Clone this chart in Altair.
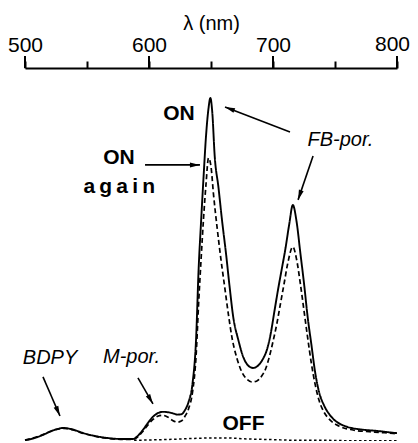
import math
import altair as alt
import pandas as pd

# ---- data ----
wl_on = [500, 507, 514, 522, 531, 539, 547, 556, 566, 577, 587, 591, 595, 599, 603, 607, 611, 615,
         619, 623, 626, 629, 632, 635, 638, 640, 642, 644, 646, 648, 649.5, 651, 653, 656, 659, 662,
         665, 668, 672, 676, 680, 684, 688, 692, 695, 698, 701, 704, 707, 710, 713, 716, 719, 722,
         725, 728, 731, 734, 737, 741, 745, 749, 753, 757, 762, 768, 775, 782, 790, 797, 800]
int_on = [0.2, 0.8, 1.7, 3.0, 3.8, 3.3, 2.3, 1.5, 0.9, 0.6, 0.6, 1.5, 3.2, 5.2, 7.0, 8.1, 8.5, 8.4,
          8.1, 7.7, 7.8, 9.0, 11.5, 16.5, 30, 50, 64, 77, 89, 97, 100, 96, 83, 74, 64, 55,
          45, 36, 29.5, 24.5, 22, 21.3, 22, 24, 26.5, 31, 37.5, 44, 50, 56, 63, 68.8, 64, 55,
          46, 36, 28, 20, 14.5, 10.5, 8, 6.3, 5.2, 4.5, 3.9, 3.5, 3.2, 3.0, 2.7, 2.4, 2.3]

wl_again = [500, 507, 514, 522, 531, 539, 547, 556, 566, 577, 587, 591, 595, 599, 603, 607, 611, 615,
            619, 623, 626, 629, 632, 635, 638, 640, 642, 644, 646, 648, 650, 652, 655, 658, 661, 664,
            667, 671, 675, 679, 683, 687, 691, 694, 697, 700, 703, 706, 709, 712, 716, 719, 722, 725,
            728, 731, 734, 737, 741, 745, 749, 753, 757, 762, 768, 775, 782, 790, 797, 800]
int_again = [0.3, 0.9, 1.8, 3.0, 3.7, 3.2, 2.2, 1.4, 0.8, 0.5, 0.5, 1.2, 2.8, 4.6, 6.2, 7.2, 7.5, 7.0,
             6.0, 5.5, 5.8, 7.2, 9.5, 14, 25, 40, 53, 65, 75, 82.5, 80, 72, 62, 53, 45, 37,
             30, 24, 20, 18, 17.2, 17.5, 19, 21, 24.5, 29, 34, 40, 46, 52, 56.6, 53, 46, 38,
             30, 22.5, 16.5, 12, 8.5, 6.5, 5.2, 4.4, 3.8, 3.4, 3.0, 2.8, 2.6, 2.4, 2.2, 2.1]

wl_off = [588, 600, 620, 640, 660, 680, 700, 720, 740, 760, 780, 800]
int_off = [0.2, 0.3, 0.5, 0.8, 0.9, 0.6, 0.4, 0.2, 0.2, 0.1, 0.1, 0.1]

tick_values = list(range(500, 801, 25))
major_ticks = [500, 600, 700, 800]
last_tick_label = ["800"]
last_tick_value = [800]

# annotations (text, wavelength, intensity)
bold_labels = ["ON", "ON", "a\u2009g\u2009a\u2009i\u2009n", "OFF"]
bold_x = [624.2, 575.8, 576.0, 676.2]
bold_y = [95.2, 82.4, 74.0, 5.1]

italic_labels = ["FB-por.", "BDPY", "M-por."]
italic_x = [754.4, 520.2, 585.9]
italic_y = [87.8, 24.1, 24.5]

arrow_x1 = [596.8, 713.7, 732.3, 514.5, 591.1]
arrow_y1 = [80.5, 90.1, 83.1, 18.7, 18.4]
arrow_x2 = [641.1, 661.3, 720.2, 528.2, 603.2]
arrow_y2 = [80.5, 97.4, 70.3, 7.3, 10.8]

# ---- chart ----
W, H = 372, 373
XDOM = [500, 800]
YDOM = [0, 108.75]
px_x = W / (XDOM[1] - XDOM[0])
px_y = H / (YDOM[1] - YDOM[0])

series = (["on"] * len(wl_on)) + (["again"] * len(wl_again)) + (["off"] * len(wl_off))
df_lines = pd.DataFrame({
    "x": wl_on + wl_again + wl_off,
    "y": int_on + int_again + int_off,
    "s": series,
})

xaxis = alt.Axis(
    orient="top", values=tick_values,
    labelExpr="datum.value % 100 === 0 && datum.value < 800 ? datum.label : ''",
    title="λ (nm)", grid=False,
    domainColor="black", domainWidth=2,
    tickColor="black", tickWidth=2, tickSize=7,
    labelFont="Liberation Sans", labelFontSize=21, labelColor="black",
    labelPadding=6, labelFlush=False, labelOverlap=False,
    titleFont="Liberation Sans", titleFontSize=20, titleFontWeight="normal",
    titleColor="black", titlePadding=1,
)

X = alt.X("x:Q", scale=alt.Scale(domain=XDOM, nice=False, zero=False), axis=xaxis)
Y = alt.Y("y:Q", scale=alt.Scale(domain=YDOM, nice=False, zero=False), axis=None)

base = alt.Chart(df_lines)

lines = base.mark_line(color="black", interpolate="monotone").encode(
    x=X, y=Y,
    detail="s:N",
    strokeDash=alt.StrokeDash("s:N", scale=alt.Scale(domain=["on", "again", "off"],
                                                     range=[[1, 0], [5, 3], [2.5, 2.5]]), legend=None),
    strokeWidth=alt.StrokeWidth("s:N", scale=alt.Scale(domain=["on", "again", "off"],
                                                       range=[1.9, 1.5, 2.6]), legend=None),
)

# longer major ticks
df_major = pd.DataFrame({"x": major_ticks})
major = alt.Chart(df_major).mark_rule(color="black", strokeWidth=2).encode(
    x=alt.X("x:Q"), y=alt.value(-12), y2=alt.value(0))

# last tick label, kept inside the page
df_last = pd.DataFrame({"x": last_tick_value, "t": last_tick_label})
last_label = alt.Chart(df_last).mark_text(font="Liberation Sans", fontSize=21, color="black",
                                          align="right", baseline="bottom", dx=13).encode(
    x="x:Q", y=alt.value(-13), text="t:N")

df_bold = pd.DataFrame({"t": bold_labels, "x": bold_x, "y": bold_y})
df_ital = pd.DataFrame({"t": italic_labels, "x": italic_x, "y": italic_y})

bold_text = alt.Chart(df_bold).mark_text(font="Liberation Sans", fontSize=21, fontWeight="bold",
                                         color="black", baseline="middle").encode(
    x="x:Q", y="y:Q", text="t:N")
ital_text = alt.Chart(df_ital).mark_text(font="Liberation Sans", fontSize=20, fontStyle="italic",
                                         color="black", baseline="middle", align="center").encode(
    x="x:Q", y="y:Q", text="t:N")

# arrow shafts and heads
angles = []
for x1, y1, x2, y2 in zip(arrow_x1, arrow_y1, arrow_x2, arrow_y2):
    dx = (x2 - x1) * px_x
    dy = -(y2 - y1) * px_y
    angles.append(math.degrees(math.atan2(dx, -dy)) % 360)
df_arrow = pd.DataFrame({"x": arrow_x1, "y": arrow_y1, "xe": arrow_x2, "ye": arrow_y2, "a": angles})

shafts = alt.Chart(df_arrow).mark_rule(color="black", strokeWidth=1.6).encode(
    x="x:Q", y="y:Q", x2="xe:Q", y2="ye:Q")
heads = alt.Chart(df_arrow).mark_point(shape="M0,0L0.5,2L-0.5,2Z", filled=True, color="black",
                                       opacity=1, size=100).encode(
    x="xe:Q", y="ye:Q",
    angle=alt.Angle("a:Q", scale=alt.Scale(domain=[0, 360], range=[0, 360])))

chart = alt.layer(lines, major, last_label, shafts, heads, bold_text, ital_text).properties(
    width=W, height=H, autosize="none",
    padding={"left": 17, "top": 60, "right": 13, "bottom": 0},
).configure_view(strokeWidth=0)

chart.save("out.html", embed_options={"renderer": "svg", "actions": False})
